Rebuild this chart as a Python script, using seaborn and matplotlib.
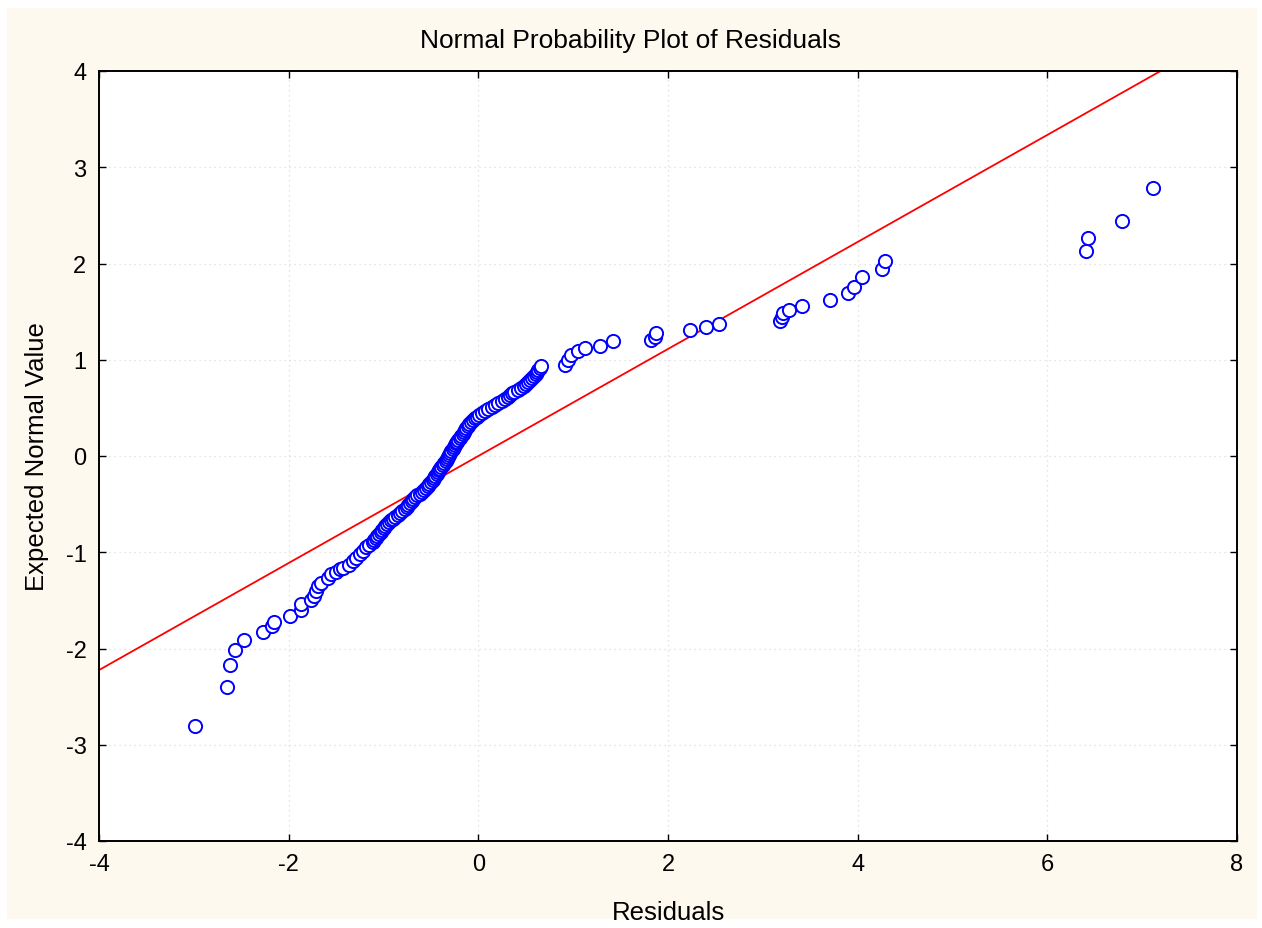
import numpy as np
import pandas as pd
import seaborn as sns
import matplotlib.pyplot as plt
from matplotlib.patches import Rectangle

# residuals (x) and expected normal values (y)
lower_x = [-2.99, -2.65, -2.62, -2.57, -2.47, -2.27, -2.18, -2.15, -1.99, -1.87, -1.87,
           -1.76, -1.73, -1.71, -1.69, -1.66, -1.59, -1.55, -1.50, -1.46, -1.43, -1.36,
           -1.32, -1.29, -1.25, -1.22, -1.18, -1.15, -1.11]
lower_y = [-2.80, -2.40, -2.17, -2.02, -1.91, -1.83, -1.77, -1.72, -1.66, -1.60, -1.54,
           -1.50, -1.45, -1.40, -1.35, -1.32, -1.27, -1.23, -1.20, -1.17, -1.16, -1.13,
           -1.09, -1.06, -1.02, -0.99, -0.95, -0.92, -0.89]

mid_x = [-1.095, -1.08, -1.065, -1.05, -1.03, -1.02, -1.00, -0.98, -0.96, -0.94, -0.92,
         -0.90, -0.875, -0.85, -0.83, -0.80, -0.77, -0.75, -0.74, -0.72, -0.70, -0.685,
         -0.67, -0.65, -0.62, -0.595, -0.57, -0.55, -0.535, -0.515, -0.50, -0.48, -0.47,
         -0.455, -0.44, -0.43, -0.415, -0.40, -0.39, -0.375, -0.36, -0.345, -0.335, -0.32,
         -0.31, -0.30, -0.285, -0.27, -0.26, -0.25, -0.235, -0.22, -0.21, -0.195, -0.18,
         -0.165, -0.155, -0.14, -0.125, -0.11, -0.095, -0.08, -0.055, -0.035, -0.01, 0.01,
         0.04, 0.075, 0.105, 0.14, 0.175, 0.21, 0.245, 0.28, 0.31, 0.33, 0.35, 0.38, 0.415,
         0.45, 0.48, 0.50, 0.52, 0.54, 0.565, 0.59, 0.61, 0.62, 0.63, 0.645, 0.66]
mid_y = [-0.87, -0.85, -0.83, -0.81, -0.79, -0.77, -0.75, -0.73, -0.71, -0.69, -0.67,
         -0.65, -0.63, -0.61, -0.59, -0.57, -0.55, -0.53, -0.51, -0.49, -0.47, -0.45,
         -0.43, -0.41, -0.39, -0.37, -0.35, -0.33, -0.31, -0.29, -0.27, -0.25, -0.23,
         -0.21, -0.19, -0.17, -0.15, -0.13, -0.11, -0.09, -0.07, -0.05, -0.03, -0.01,
         0.01, 0.03, 0.05, 0.07, 0.09, 0.11, 0.13, 0.15, 0.17, 0.19, 0.21,
         0.23, 0.25, 0.27, 0.29, 0.31, 0.33, 0.35, 0.37, 0.39, 0.41, 0.43,
         0.45, 0.47, 0.49, 0.51, 0.53, 0.55, 0.57, 0.59, 0.61, 0.63, 0.65, 0.67, 0.69,
         0.71, 0.73, 0.75, 0.77, 0.79, 0.81, 0.83, 0.85, 0.87, 0.89, 0.91, 0.93]

upper_x = [0.91, 0.95, 0.98, 1.05, 1.12, 1.28, 1.42, 1.82, 1.86, 1.87, 2.23, 2.40, 2.54,
           3.18, 3.20, 3.21, 3.28, 3.41, 3.71, 3.90, 3.96, 4.05, 4.26, 4.29,
           6.41, 6.43, 6.79, 7.11]
upper_y = [0.95, 1.00, 1.05, 1.09, 1.12, 1.14, 1.19, 1.21, 1.24, 1.28, 1.31, 1.34, 1.37,
           1.40, 1.44, 1.49, 1.52, 1.56, 1.62, 1.69, 1.76, 1.86, 1.94, 2.03,
           2.13, 2.26, 2.44, 2.78]

# fitted normal line
line_intercept = 0.0
line_slope = 0.556

x_ticks = [-4, -2, 0, 2, 4, 6, 8]
y_ticks = [-4, -3, -2, -1, 0, 1, 2, 3, 4]

df = pd.DataFrame({"Residuals": lower_x + mid_x + upper_x,
                   "Expected Normal Value": lower_y + mid_y + upper_y})

sns.set_theme(style="ticks")
plt.rcParams['font.family'] = ['Liberation Sans', 'DejaVu Sans']
plt.rcParams['axes.unicode_minus'] = False
plt.rcParams['text.color'] = 'black'

fig = plt.figure(figsize=(12.62, 9.29), dpi=100)
fig.patch.set_facecolor("white")
fig.patches.append(Rectangle((7 / 1262, 9 / 929), 1250 / 1262, 911 / 929,
                             transform=fig.transFigure, facecolor="#fdf9ef",
                             edgecolor="none", zorder=-10))
ax = fig.add_axes([99 / 1262, 87 / 929, 1138 / 1262, 770 / 929])
ax.set_facecolor("white")

ax.grid(True, color="#dcdcdc", linestyle=(0, (1, 3)), linewidth=0.9)
ax.axline((0, line_intercept), slope=line_slope, color="red", linewidth=1.3, zorder=2)
sns.scatterplot(data=df, x="Residuals", y="Expected Normal Value", ax=ax,
                marker="o", s=90, facecolor="white", edgecolor="blue",
                linewidth=1.4, zorder=3)

ax.set_xlim(-4, 8)
ax.set_ylim(-4, 4)
ax.set_xticks(x_ticks)
ax.set_yticks(y_ticks)
ax.tick_params(direction="in", length=5, width=1, top=True, right=True,
               labelsize=17, colors="black", pad=9)
for s in ax.spines.values():
    s.set_color("black")
    s.set_linewidth(1.4)

ax.set_xlabel("Residuals", fontsize=18.5, color="black", labelpad=18)
ax.set_ylabel("Expected Normal Value", fontsize=18.5, color="black", labelpad=12)
fig.text(631 / 1262, 1 - 41 / 929, "Normal Probability Plot of Residuals",
         fontsize=19, color="black", ha="center", va="center")

fig.savefig("out.png", dpi=100)
